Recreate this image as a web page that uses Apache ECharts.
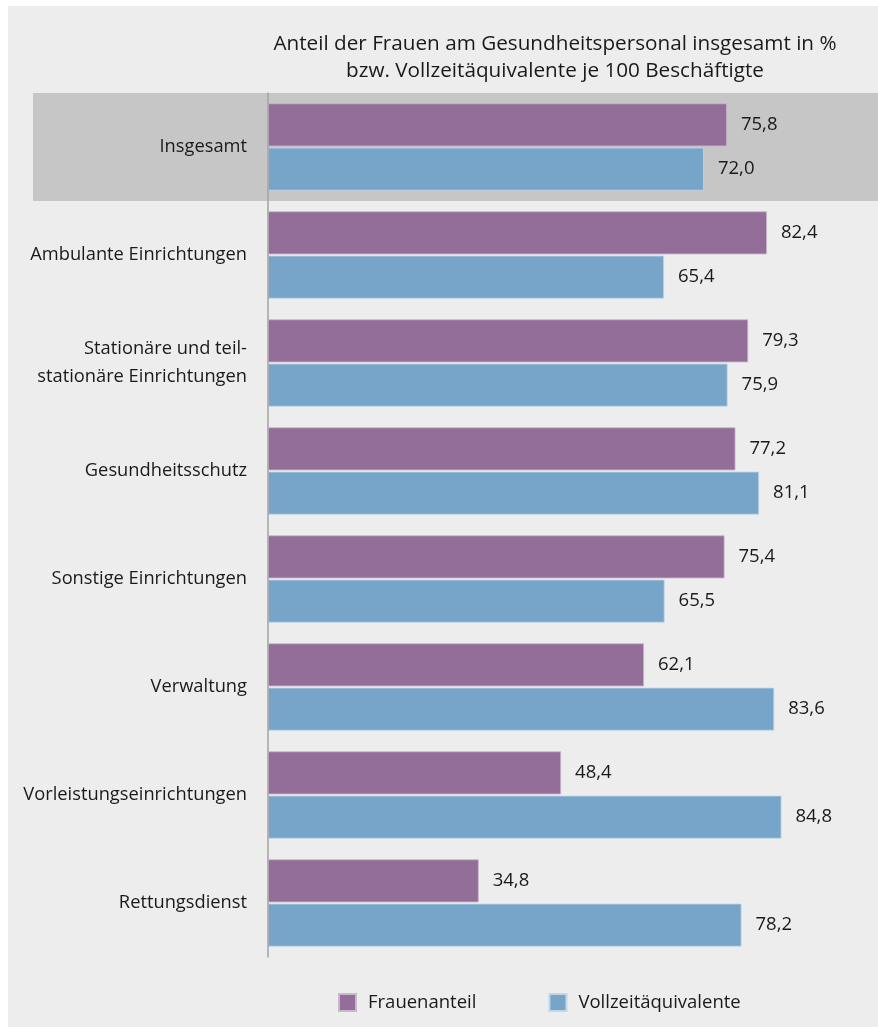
<!DOCTYPE html>
<html>
<head>
<meta charset="utf-8">
<script src="https://cdn.jsdelivr.net/npm/echarts@6/dist/echarts.min.js"></script>
<style>
html,body{margin:0;padding:0;background:#ffffff;}
#chart{position:absolute;left:8px;top:6px;width:870px;height:1021px;}
</style>
</head>
<body>
<div id="chart"></div>
<script>
const categories = ["Insgesamt","Ambulante Einrichtungen","Stationäre und teil-\nstationäre Einrichtungen","Gesundheitsschutz","Sonstige Einrichtungen","Verwaltung","Vorleistungseinrichtungen","Rettungsdienst"];
const seriesNames = ["Frauenanteil","Vollzeitäquivalente"];
const frauenanteil = [75.8, 82.4, 79.3, 77.2, 75.4, 62.1, 48.4, 34.8];
const vollzeit = [72.0, 65.4, 75.9, 81.1, 65.5, 83.6, 84.8, 78.2];
const titleText = "Anteil der Frauen am Gesundheitspersonal insgesamt in %\nbzw. Vollzeitäquivalente je 100 Beschäftigte";

const FONT = "Open Sans";
const chart = echarts.init(document.getElementById('chart'), null, {renderer:'canvas'});
const gridTop = 87, gridHeight = 864;
const band = gridHeight / categories.length;
const fmt = p => p.value.toFixed(1).replace('.', ',');
const labelStyle = {show:true, position:'right', distance:14, fontFamily:FONT, fontSize:18.5, color:'#1a1a1a', formatter:fmt};

chart.setOption({
  backgroundColor:'#ededed',
  animation:false,
  title:{
    text:titleText, left:547, top:25, textAlign:'center', padding:0,
    textStyle:{fontFamily:FONT, fontSize:20.7, fontWeight:'normal', color:'#1a1a1a', lineHeight:27}
  },
  graphic:{elements:[{
    type:'rect', z:-10, silent:true,
    shape:{x:25, y:gridTop, width:845, height:band},
    style:{fill:'#c6c6c6'}
  }]},
  legend:{
    left:325, top:982, itemWidth:17, itemHeight:17, itemGap:72,
    icon:'rect',
    textStyle:{fontFamily:FONT, fontSize:18.5, color:'#1a1a1a', padding:[0,0,0,7]},
    data:seriesNames
  },
  grid:{left:260, top:gridTop, height:gridHeight, width:605.5},
  xAxis:{type:'value', min:0, max:100, show:false},
  yAxis:{
    type:'category', inverse:true, data:categories, z:5,
    axisLine:{show:true, lineStyle:{color:'#a3a3a3', width:1.5}},
    axisTick:{show:false},
    axisLabel:{fontFamily:FONT, fontSize:18.3, color:'#1a1a1a', margin:21, lineHeight:28, align:'right'}
  },
  series:[
    {name:seriesNames[0], type:'bar', data:frauenanteil, barWidth:43, barGap:'3%',
     itemStyle:{color:'#926e98', borderColor:'#c9b7cc', borderWidth:0.8}, label:labelStyle},
    {name:seriesNames[1], type:'bar', data:vollzeit, barWidth:43,
     itemStyle:{color:'#77a5ca', borderColor:'#c2d6e6', borderWidth:0.8}, label:labelStyle}
  ]
});
</script>
</body>
</html>
